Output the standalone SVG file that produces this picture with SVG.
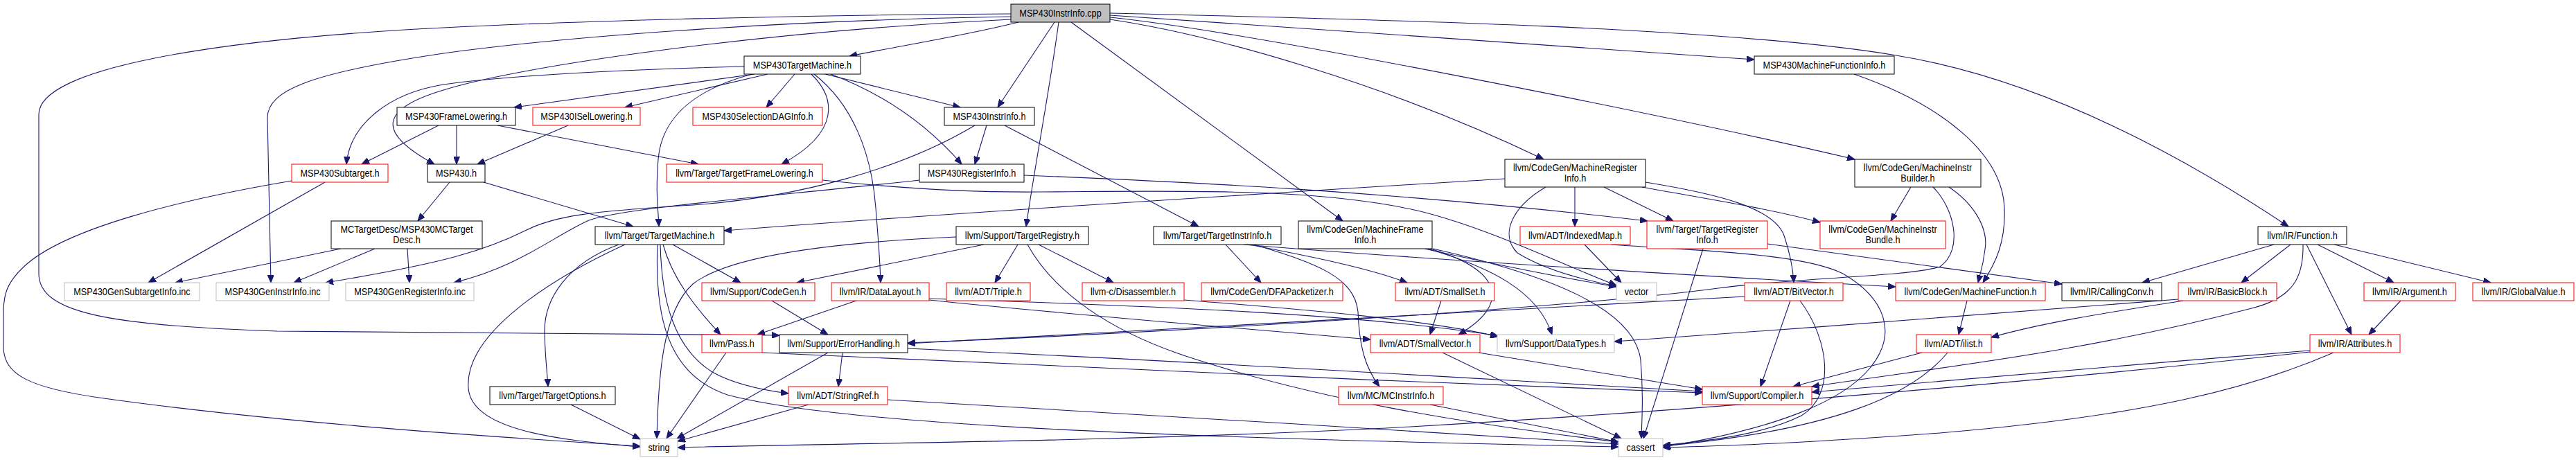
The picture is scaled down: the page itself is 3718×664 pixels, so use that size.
<svg xmlns="http://www.w3.org/2000/svg" width="3718" height="664" viewBox="0 0 3718 664">
<style>
.nd rect{fill:#fff;stroke:#000;stroke-width:1}
.nd.r rect{stroke:#ff0000}
.nd.g rect{stroke:#bfbfbf}
.nd.root rect{fill:#bfbfbf}
.nd text{font-family:"Liberation Sans",Arial,Helvetica,sans-serif;font-size:14.5px;text-anchor:middle;fill:#000}
#edges path{fill:none;stroke:#191970;stroke-width:1.1;marker-end:url(#ah)}
</style>
<defs>
<marker id="ah" markerUnits="userSpaceOnUse" markerWidth="12" markerHeight="9" refX="11" refY="4.5" orient="auto">
<path d="M0,0 L11,4.5 L0,9 z" fill="#191970" stroke="#191970" stroke-width="1"/>
</marker>
</defs>
<rect x="0" y="0" width="3718" height="664" fill="#fff"/>
<g id="edges">
<path d="M1470,32 C1390,52 1300,66 1226,81"/>
<path d="M1522,32 L1440,155"/>
<path d="M1528,32 C1515,130 1495,230 1481,327"/>
<path d="M1546,32 L1938,319"/>
<path d="M1602,28 C1750,50 2000,120 2228,230"/>
<path d="M1602,25 C1800,45 2400,165 2677,230"/>
<path d="M1602,22 C1800,35 2300,70 2532,86"/>
<path d="M1602,19 C2000,28 2500,40 2737,80 C2950,115 3150,225 3303,327"/>
<path d="M1459,20 C1100,22 800,32 640,40 C300,57 56,100 56,165 L56,395 C56,450 150,470 400,478 L1125,484"/>
<path d="M1459,24 C1100,30 800,55 640,77 C450,105 386,130 386,170 L391,408"/>
<path d="M1459,28 C1100,45 750,95 640,130 C540,160 550,195 627,237"/>
<path d="M1074,96 C900,100 720,110 640,122 C560,135 505,180 500,237"/>
<path d="M1089,107 L742,155"/>
<path d="M1108,107 L902,155"/>
<path d="M1085,107 C1000,130 955,170 950,230 C946,280 950,300 951,327"/>
<path d="M1147,107 L1106,155"/>
<path d="M1171,107 C1205,140 1215,190 1128,237"/>
<path d="M1175,107 C1230,150 1258,220 1264,300 C1267,340 1270,370 1271,408"/>
<path d="M1191,107 L1386,155"/>
<path d="M1199,107 C1260,130 1330,170 1388,237"/>
<path d="M633,181 L522,237"/>
<path d="M659,181 L659,237"/>
<path d="M718,181 L1008,237"/>
<path d="M820,181 L689,237"/>
<path d="M1424,181 L1407,237"/>
<path d="M1450,181 L1730,327"/>
<path d="M1407,181 C1300,245 1150,285 1000,296 C850,305 800,312 760,332 C700,362 640,380 470,408"/>
<path d="M1327,260 C1100,285 900,300 850,318 C800,340 750,385 655,408"/>
<path d="M1478,253 C1700,262 2000,275 2378,319"/>
<path d="M469,263 L214,408"/>
<path d="M421,261 C250,290 100,330 40,380 C5,410 5,430 5,460 L5,500 C5,540 40,560 150,575 C400,610 700,630 924,644"/>
<path d="M649,263 L603,319"/>
<path d="M698,263 L914,327"/>
<path d="M1187,260 C1300,272 1400,278 1500,277 C1700,276 1900,270 2050,305 C2150,330 2250,380 2333,412"/>
<path d="M2172,258 C1900,275 1400,305 1045,333"/>
<path d="M2231,270 C2180,300 2165,340 2190,365 C2230,390 2290,405 2333,413"/>
<path d="M2273,270 L2273,327"/>
<path d="M2315,270 L2415,319"/>
<path d="M2370,270 C2450,285 2550,300 2627,321"/>
<path d="M2375,263 C2480,280 2560,300 2575,340 C2585,370 2588,390 2589,408"/>
<path d="M2758,270 L2729,319"/>
<path d="M2813,270 C2850,295 2870,330 2865,360 C2862,385 2858,395 2855,408"/>
<path d="M2790,270 C2820,300 2835,360 2800,385 C2750,400 2600,400 2480,416 C2300,440 1800,475 1310,495"/>
<path d="M2676,107 C2800,150 2890,220 2893,300 C2895,350 2880,380 2862,408"/>
<path d="M492,359 L253,408"/>
<path d="M541,359 L424,408"/>
<path d="M588,359 L591,408"/>
<path d="M893,353 C820,380 785,430 786,480 C787,520 790,540 791,558"/>
<path d="M902,353 C800,400 670,480 676,560 C680,620 800,635 924,645"/>
<path d="M953,353 C955,430 970,500 1028,537 C1060,555 1100,563 1138,568"/>
<path d="M949,353 C945,450 960,540 1050,570 C1200,610 1600,630 2336,645"/>
<path d="M957,353 C970,400 1000,440 1040,483"/>
<path d="M971,353 L1069,408"/>
<path d="M1380,342 C1200,350 1050,370 1000,410 C955,450 950,550 948,633"/>
<path d="M1420,353 L1150,408"/>
<path d="M1469,353 L1436,408"/>
<path d="M1483,353 C1520,420 1600,480 1730,520 C1900,575 2100,610 2336,638"/>
<path d="M1499,353 L1607,408"/>
<path d="M1769,353 L1820,408"/>
<path d="M1803,353 C1880,368 1970,385 2031,408"/>
<path d="M1810,353 C1900,380 1955,400 1960,450 C1962,500 1970,530 1991,558"/>
<path d="M1795,353 C2000,370 2400,395 2736,414"/>
<path d="M2056,359 C2150,380 2250,400 2333,414"/>
<path d="M2060,359 C2150,385 2220,420 2240,483"/>
<path d="M2064,359 C2170,390 2180,440 2105,483"/>
<path d="M2068,359 C2250,400 2360,450 2368,520 C2372,570 2370,600 2369,633"/>
<path d="M2287,353 L2340,408"/>
<path d="M2325,353 C2450,362 2600,365 2660,395 C2720,430 2740,480 2700,530 C2660,580 2560,620 2400,645"/>
<path d="M2458,359 L2372,633"/>
<path d="M2551,352 L2976,410"/>
<path d="M3282,353 L3092,408"/>
<path d="M3306,353 L3235,408"/>
<path d="M3324,353 C3325,400 3310,430 3250,445 C3000,510 2800,530 2615,558"/>
<path d="M3329,353 L3394,483"/>
<path d="M3345,353 L3455,408"/>
<path d="M3369,353 L3595,408"/>
<path d="M3151,434 C3050,450 2950,465 2874,487"/>
<path d="M3144,432 C2900,450 2600,475 2330,493"/>
<path d="M3465,434 L3419,483"/>
<path d="M3334,506 C3100,525 2900,540 2615,566"/>
<path d="M3334,508 C3000,545 2500,590 2000,618 C1600,638 1200,640 978,646"/>
<path d="M3368,509 C3250,560 3100,600 2800,625 C2600,640 2500,643 2400,646"/>
<path d="M2774,509 L2588,558"/>
<path d="M2811,509 C2760,570 2650,620 2400,644"/>
<path d="M2839,434 L2827,483"/>
<path d="M2584,434 L2541,558"/>
<path d="M2598,434 C2640,490 2650,570 2600,600 C2550,625 2480,635 2400,643"/>
<path d="M2518,428 C2200,445 1700,475 1310,496"/>
<path d="M1216,509 L1210,558"/>
<path d="M1195,509 L977,633"/>
<path d="M1310,503 C1700,520 2100,545 2457,565"/>
<path d="M1048,509 L962,633"/>
<path d="M1100,509 C1400,525 2000,550 2457,567"/>
<path d="M1114,434 L1195,483"/>
<path d="M1236,434 L1093,483"/>
<path d="M1341,433 C1500,450 1800,475 1978,490"/>
<path d="M1341,431 C1600,440 1950,450 2162,485"/>
<path d="M1709,433 C1900,448 2060,462 2163,486"/>
<path d="M2080,434 L2064,483"/>
<path d="M2134,509 L2457,562"/>
<path d="M2082,509 L2340,633"/>
<path d="M2064,584 L2336,638"/>
<path d="M1167,584 L978,637"/>
<path d="M1281,577 C1600,595 2000,620 2336,641"/>
<path d="M824,584 L924,634"/>
</g>
<g id="n_root" class="nd root"><rect x="1459" y="6" width="143" height="26"/><text transform="translate(1530.5,23.5) scale(0.875,1)">MSP430InstrInfo.cpp</text></g>
<g id="n_tm" class="nd"><rect x="1074" y="81" width="168" height="26"/><text transform="translate(1158,98.5) scale(0.875,1)">MSP430TargetMachine.h</text></g>
<g id="n_mfi430" class="nd"><rect x="2532" y="81" width="202" height="26"/><text transform="translate(2633,98.5) scale(0.875,1)">MSP430MachineFunctionInfo.h</text></g>
<g id="n_fl" class="nd"><rect x="573" y="155" width="171" height="26"/><text transform="translate(658.5,172.5) scale(0.875,1)">MSP430FrameLowering.h</text></g>
<g id="n_isel" class="nd r"><rect x="769" y="155" width="155" height="26"/><text transform="translate(846.5,172.5) scale(0.875,1)">MSP430ISelLowering.h</text></g>
<g id="n_sdag" class="nd r"><rect x="1000" y="155" width="187" height="26"/><text transform="translate(1093.5,172.5) scale(0.875,1)">MSP430SelectionDAGInfo.h</text></g>
<g id="n_ii" class="nd"><rect x="1363" y="155" width="130" height="26"/><text transform="translate(1428,172.5) scale(0.875,1)">MSP430InstrInfo.h</text></g>
<g id="n_sub" class="nd r"><rect x="421" y="237" width="139" height="26"/><text transform="translate(490.5,254.5) scale(0.875,1)">MSP430Subtarget.h</text></g>
<g id="n_msp" class="nd"><rect x="617" y="237" width="83" height="26"/><text transform="translate(658.5,254.5) scale(0.875,1)">MSP430.h</text></g>
<g id="n_tfl" class="nd r"><rect x="962" y="237" width="225" height="26"/><text transform="translate(1074.5,254.5) scale(0.875,1)">llvm/Target/TargetFrameLowering.h</text></g>
<g id="n_ri" class="nd"><rect x="1327" y="237" width="151" height="26"/><text transform="translate(1402.5,254.5) scale(0.875,1)">MSP430RegisterInfo.h</text></g>
<g id="n_mri" class="nd"><rect x="2172" y="230" width="203" height="40"/><text transform="translate(2273.5,246.5) scale(0.875,1)">llvm/CodeGen/MachineRegister</text><text transform="translate(2273.5,261.5) scale(0.875,1)">Info.h</text></g>
<g id="n_mib" class="nd"><rect x="2677" y="230" width="182" height="40"/><text transform="translate(2768,246.5) scale(0.875,1)">llvm/CodeGen/MachineInstr</text><text transform="translate(2768,261.5) scale(0.875,1)">Builder.h</text></g>
<g id="n_mcd" class="nd"><rect x="478" y="319" width="218" height="40"/><text transform="translate(587,335.5) scale(0.875,1)">MCTargetDesc/MSP430MCTarget</text><text transform="translate(587,350.5) scale(0.875,1)">Desc.h</text></g>
<g id="n_ttm" class="nd"><rect x="859" y="327" width="186" height="26"/><text transform="translate(952,344.5) scale(0.875,1)">llvm/Target/TargetMachine.h</text></g>
<g id="n_treg" class="nd"><rect x="1380" y="327" width="191" height="26"/><text transform="translate(1475.5,344.5) scale(0.875,1)">llvm/Support/TargetRegistry.h</text></g>
<g id="n_tii" class="nd"><rect x="1665" y="327" width="184" height="26"/><text transform="translate(1757,344.5) scale(0.875,1)">llvm/Target/TargetInstrInfo.h</text></g>
<g id="n_mfrm" class="nd"><rect x="1874" y="319" width="193" height="40"/><text transform="translate(1970.5,335.5) scale(0.875,1)">llvm/CodeGen/MachineFrame</text><text transform="translate(1970.5,350.5) scale(0.875,1)">Info.h</text></g>
<g id="n_imap" class="nd r"><rect x="2194" y="327" width="159" height="26"/><text transform="translate(2273.5,344.5) scale(0.875,1)">llvm/ADT/IndexedMap.h</text></g>
<g id="n_tri" class="nd r"><rect x="2377" y="319" width="174" height="40"/><text transform="translate(2464,335.5) scale(0.875,1)">llvm/Target/TargetRegister</text><text transform="translate(2464,350.5) scale(0.875,1)">Info.h</text></g>
<g id="n_bundle" class="nd r"><rect x="2627" y="319" width="181" height="40"/><text transform="translate(2717.5,335.5) scale(0.875,1)">llvm/CodeGen/MachineInstr</text><text transform="translate(2717.5,350.5) scale(0.875,1)">Bundle.h</text></g>
<g id="n_func" class="nd"><rect x="3259" y="327" width="128" height="26"/><text transform="translate(3323,344.5) scale(0.875,1)">llvm/IR/Function.h</text></g>
<g id="n_gsub" class="nd g"><rect x="93" y="408" width="195" height="26"/><text transform="translate(190.5,425.5) scale(0.875,1)">MSP430GenSubtargetInfo.inc</text></g>
<g id="n_ginstr" class="nd g"><rect x="312" y="408" width="163" height="26"/><text transform="translate(393.5,425.5) scale(0.875,1)">MSP430GenInstrInfo.inc</text></g>
<g id="n_greg" class="nd g"><rect x="499" y="408" width="185" height="26"/><text transform="translate(591.5,425.5) scale(0.875,1)">MSP430GenRegisterInfo.inc</text></g>
<g id="n_cg" class="nd r"><rect x="1013" y="408" width="163" height="26"/><text transform="translate(1094.5,425.5) scale(0.875,1)">llvm/Support/CodeGen.h</text></g>
<g id="n_dl" class="nd r"><rect x="1200" y="408" width="141" height="26"/><text transform="translate(1270.5,425.5) scale(0.875,1)">llvm/IR/DataLayout.h</text></g>
<g id="n_triple" class="nd r"><rect x="1366" y="408" width="121" height="26"/><text transform="translate(1426.5,425.5) scale(0.875,1)">llvm/ADT/Triple.h</text></g>
<g id="n_dis" class="nd r"><rect x="1562" y="408" width="147" height="26"/><text transform="translate(1635.5,425.5) scale(0.875,1)">llvm-c/Disassembler.h</text></g>
<g id="n_dfa" class="nd r"><rect x="1734" y="408" width="204" height="26"/><text transform="translate(1836,425.5) scale(0.875,1)">llvm/CodeGen/DFAPacketizer.h</text></g>
<g id="n_sset" class="nd r"><rect x="2014" y="408" width="143" height="26"/><text transform="translate(2085.5,425.5) scale(0.875,1)">llvm/ADT/SmallSet.h</text></g>
<g id="n_vec" class="nd g"><rect x="2333" y="408" width="58" height="26"/><text transform="translate(2362,425.5) scale(0.875,1)">vector</text></g>
<g id="n_bv" class="nd r"><rect x="2518" y="408" width="142" height="26"/><text transform="translate(2589,425.5) scale(0.875,1)">llvm/ADT/BitVector.h</text></g>
<g id="n_mf" class="nd r"><rect x="2736" y="408" width="216" height="26"/><text transform="translate(2844,425.5) scale(0.875,1)">llvm/CodeGen/MachineFunction.h</text></g>
<g id="n_cc" class="nd"><rect x="2976" y="408" width="144" height="26"/><text transform="translate(3048,425.5) scale(0.875,1)">llvm/IR/CallingConv.h</text></g>
<g id="n_bb" class="nd r"><rect x="3144" y="408" width="142" height="26"/><text transform="translate(3215,425.5) scale(0.875,1)">llvm/IR/BasicBlock.h</text></g>
<g id="n_arg" class="nd r"><rect x="3412" y="408" width="132" height="26"/><text transform="translate(3478,425.5) scale(0.875,1)">llvm/IR/Argument.h</text></g>
<g id="n_gv" class="nd r"><rect x="3569" y="408" width="146" height="26"/><text transform="translate(3642,425.5) scale(0.875,1)">llvm/IR/GlobalValue.h</text></g>
<g id="n_pass" class="nd r"><rect x="1013" y="483" width="87" height="26"/><text transform="translate(1056.5,500.5) scale(0.875,1)">llvm/Pass.h</text></g>
<g id="n_eh" class="nd"><rect x="1125" y="483" width="185" height="26"/><text transform="translate(1217.5,500.5) scale(0.875,1)">llvm/Support/ErrorHandling.h</text></g>
<g id="n_svec" class="nd r"><rect x="1978" y="483" width="158" height="26"/><text transform="translate(2057,500.5) scale(0.875,1)">llvm/ADT/SmallVector.h</text></g>
<g id="n_dt" class="nd g"><rect x="2161" y="483" width="169" height="26"/><text transform="translate(2245.5,500.5) scale(0.875,1)">llvm/Support/DataTypes.h</text></g>
<g id="n_ilist" class="nd r"><rect x="2766" y="483" width="108" height="26"/><text transform="translate(2820,500.5) scale(0.875,1)">llvm/ADT/ilist.h</text></g>
<g id="n_attr" class="nd r"><rect x="3334" y="483" width="130" height="26"/><text transform="translate(3399,500.5) scale(0.875,1)">llvm/IR/Attributes.h</text></g>
<g id="n_topt" class="nd"><rect x="707" y="558" width="181" height="26"/><text transform="translate(797.5,575.5) scale(0.875,1)">llvm/Target/TargetOptions.h</text></g>
<g id="n_sref" class="nd r"><rect x="1138" y="558" width="143" height="26"/><text transform="translate(1209.5,575.5) scale(0.875,1)">llvm/ADT/StringRef.h</text></g>
<g id="n_mci" class="nd r"><rect x="1932" y="558" width="151" height="26"/><text transform="translate(2007.5,575.5) scale(0.875,1)">llvm/MC/MCInstrInfo.h</text></g>
<g id="n_comp" class="nd r"><rect x="2457" y="558" width="158" height="26"/><text transform="translate(2536,575.5) scale(0.875,1)">llvm/Support/Compiler.h</text></g>
<g id="n_str" class="nd g"><rect x="924" y="633" width="54" height="26"/><text transform="translate(951,650.5) scale(0.875,1)">string</text></g>
<g id="n_cas" class="nd g"><rect x="2336" y="633" width="64" height="26"/><text transform="translate(2368,650.5) scale(0.875,1)">cassert</text></g>
</svg>
